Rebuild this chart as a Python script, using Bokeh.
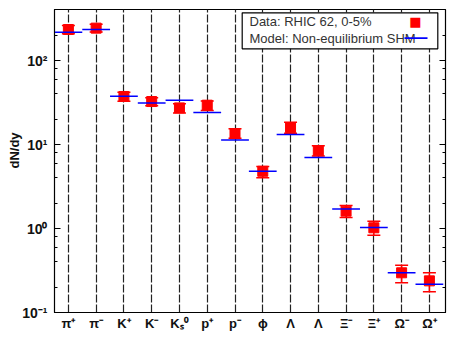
from bokeh.plotting import figure
from bokeh.models import (ColumnDataSource, FixedTicker, Range1d, LogAxis, Whisker,
                          TeeHead, Label, LogTicker, BoxAnnotation)
from bokeh.embed import file_html
from bokeh.resources import INLINE

particles = ["π⁺", "π⁻", "K⁺", "K⁻", "Kₛ⁰", "p⁺", "p⁻", "ϕ", "Λ", "Λ", "Ξ⁻", "Ξ⁺", "Ω⁻", "Ω⁺"]
data_vals = [234, 243, 37.3, 32.5, 27.3, 29.4, 13.4, 4.8, 15.9, 8.4, 1.61, 1.02, 0.297, 0.238]
data_hi = [262, 270, 41.9, 36.0, 30.5, 32.9, 15.4, 5.47, 18.4, 9.7, 1.88, 1.22, 0.366, 0.297]
data_lo = [209, 218, 32.7, 29.0, 23.8, 25.4, 11.9, 4.02, 13.6, 7.3, 1.35, 0.83, 0.226, 0.177]
model_vals = [217, 234, 37.6, 31.3, 33.7, 24.0, 11.3, 4.8, 13.2, 7.0, 1.71, 1.03, 0.297, 0.217]
ytick_vals = [0.1, 1, 10, 100]
ytick_labels = ["10⁻¹", "10⁰", "10¹", "10²"]
legend_texts = ["Data: RHIC 62, 0-5%", "Model: Non-equilibrium SHM"]

xs = list(range(1, len(particles) + 1))
src = ColumnDataSource(dict(x=xs, y=data_vals, hi=data_hi, lo=data_lo, m=model_vals,
                            x0=[x - 0.5 for x in xs], x1=[x + 0.5 for x in xs]))

FONT = "Liberation Sans"

p = figure(width=449, height=336, y_axis_type="log", output_backend="svg",
           toolbar_location=None, x_range=Range1d(0.5, 14.58), y_range=Range1d(0.1, 405),
           min_border_left=54, min_border_right=4, min_border_top=9, min_border_bottom=24)
p.outline_line_color = "black"
p.outline_line_width = 1.2

# grid: dashed vertical lines at categories
p.ygrid.grid_line_color = None
p.xgrid.ticker = FixedTicker(ticks=xs)
p.xgrid.grid_line_color = "#222222"
p.xgrid.grid_line_dash = "8 2"
p.xgrid.grid_line_width = 1.2

# x axis
p.xaxis.ticker = FixedTicker(ticks=xs)
p.xaxis.major_label_overrides = {x: lab for x, lab in zip(xs, particles)}
p.xaxis.major_tick_line_color = None
p.xaxis.minor_tick_line_color = None
p.xaxis.major_tick_out = 0
p.xaxis.minor_tick_out = 0
p.xaxis.axis_line_color = "black"
p.xaxis.major_label_text_font = FONT
p.xaxis.major_label_text_font_size = "13px"
p.xaxis.major_label_text_font_style = "bold"
p.xaxis.major_label_text_color = "#111111"
p.xaxis.major_label_standoff = 3

# y axis
p.yaxis.ticker = LogTicker(desired_num_ticks=4)
p.yaxis.major_label_overrides = {v: lab for v, lab in zip(ytick_vals, ytick_labels)}
p.yaxis.major_label_text_font = FONT
p.yaxis.major_label_text_font_size = "14px"
p.yaxis.major_label_text_font_style = "bold"
p.yaxis.major_label_text_color = "#111111"
p.yaxis.major_tick_in = 6
p.yaxis.major_tick_out = 0
p.yaxis.minor_tick_in = 3
p.yaxis.minor_tick_out = 0
p.yaxis.major_label_standoff = 7
p.yaxis.axis_line_color = "black"

right = LogAxis(ticker=LogTicker(desired_num_ticks=4), major_label_text_font_size="0px",
                major_tick_in=6, major_tick_out=0, minor_tick_in=3, minor_tick_out=0,
                major_label_standoff=0, axis_line_color=None)
right.major_label_overrides = {v: "" for v in ytick_vals}
p.add_layout(right, "right")

# y label
ylab = Label(x=10, y=162, x_units="screen", y_units="screen", text="dN/dy", angle=90,
             angle_units="deg", text_font=FONT, text_font_size="13px", text_font_style="bold",
             text_align="center", text_baseline="middle", text_color="#111111")
p.add_layout(ylab, "left")

# error bars
w = Whisker(source=src, base="x", upper="hi", lower="lo", line_color="red", line_width=1.5,
            upper_head=TeeHead(size=13, line_color="red", line_width=1.5),
            lower_head=TeeHead(size=13, line_color="red", line_width=1.5))
p.add_layout(w)

# data squares
p.scatter("x", "y", source=src, marker="square", size=10, color="red")

# model lines
p.segment(x0="x0", x1="x1", y0="m", y1="m", source=src, line_color="blue", line_width=1.5)

# legend (custom, markers on the right as in the reference)
frame_box = BoxAnnotation(left=187.7, right=383.3, bottom=263.7, top=299.7,
                          left_units="screen", right_units="screen",
                          bottom_units="screen", top_units="screen",
                          fill_color="white", fill_alpha=1.0, line_color="black",
                          line_alpha=1.0, line_width=1.2, line_dash="solid")
p.add_layout(frame_box)

for txt, yy in zip(legend_texts, [291, 273.7]):
    p.add_layout(Label(x=195, y=yy, x_units="screen", y_units="screen", text=txt,
                       text_font=FONT, text_font_size="13px", text_color="#333333",
                       text_baseline="middle", text_align="left"))

sq = Label(x=361, y=291, x_units="screen", y_units="screen", text="■",
           text_font="DejaVu Sans", text_font_size="13px", text_color="red",
           text_align="center", text_baseline="middle")
p.add_layout(sq)

bl = BoxAnnotation(left=350, right=373, bottom=273.6, top=275.2,
                   left_units="screen", right_units="screen",
                   bottom_units="screen", top_units="screen",
                   fill_color="blue", fill_alpha=1.0, line_color=None)
p.add_layout(bl)

out = file_html(p, INLINE)
open("out.html", "w").write(out)
